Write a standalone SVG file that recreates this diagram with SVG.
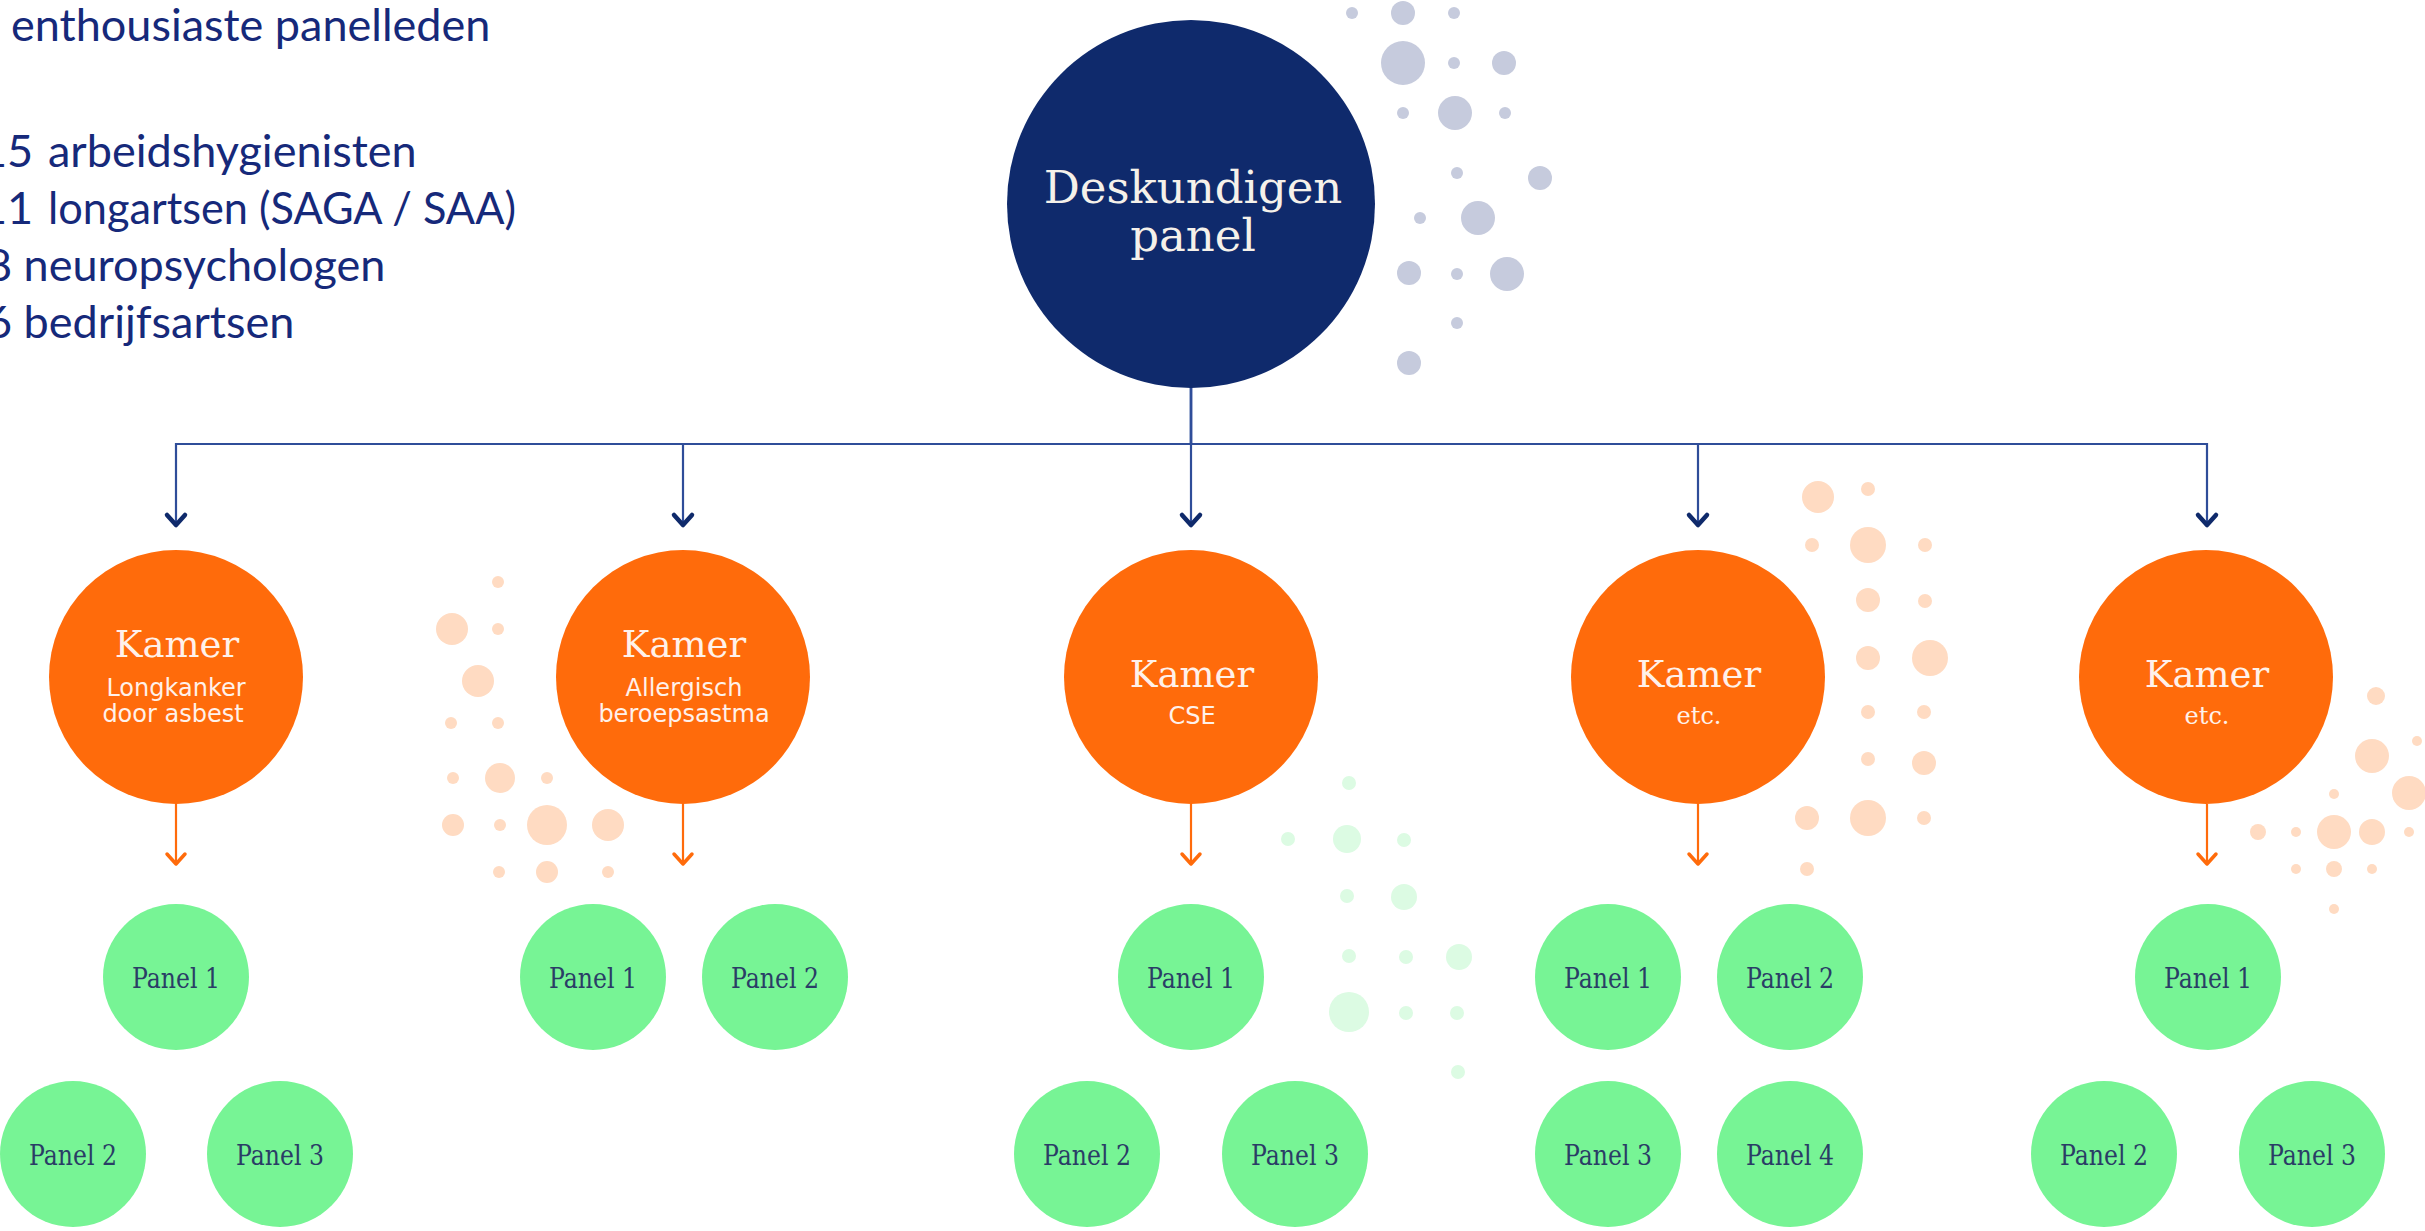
<svg xmlns="http://www.w3.org/2000/svg" width="2425" height="1231" viewBox="0 0 2425 1231">
<defs>
<style>
.bg{fill:#ffffff}
.intro{font-family:Lato,"Liberation Sans",sans-serif;font-size:45px;fill:#16297a}
.root{fill:#0f2a6c}
.rootTxt{font-family:"DejaVu Serif","Liberation Serif",serif;font-size:45px;fill:#f5f1ea;text-anchor:middle}
.kamer{fill:#ff6b0b}
.kTitle{font-family:"DejaVu Serif","Liberation Serif",serif;font-size:37px;fill:#fff1ea;text-anchor:middle}
.kSub{font-family:"DejaVu Sans","Liberation Sans",sans-serif;font-size:24px;fill:#fff1ea;text-anchor:middle}
.kSubS{font-family:"DejaVu Serif","Liberation Serif",serif;font-size:24px;fill:#fff1ea;text-anchor:middle}
.panel{fill:#77f495}
.pTxt{font-family:"DejaVu Serif","Liberation Serif",serif;font-size:27px;fill:#2a3d66;text-anchor:middle}
.dN{fill:#c6cbdd}
.dO{fill:#ffdbc2}
.dG{fill:#dcfbe3}
.lnNavy{fill:none;stroke:#2f4d99;stroke-width:2.2}
.lnOrange{fill:none;stroke:#ff6b0b;stroke-width:2.2}
</style>
<marker id="arrNavy" markerUnits="userSpaceOnUse" viewBox="-14 -14 28 28" markerWidth="28" markerHeight="28" refX="0" refY="0" orient="auto" overflow="visible">
<path d="M-10,-9 L0,0 L-10,9" fill="none" stroke="#0f2a6b" stroke-width="4.5" stroke-linecap="round" stroke-linejoin="round"/>
</marker>
<marker id="arrOrange" markerUnits="userSpaceOnUse" viewBox="-14 -14 28 28" markerWidth="28" markerHeight="28" refX="0" refY="0" orient="auto" overflow="visible">
<path d="M-10,-9 L0,0 L-10,9" fill="none" stroke="#ff6b0b" stroke-width="3.5" stroke-linecap="round" stroke-linejoin="round"/>
</marker>
</defs>
<rect class="bg" x="0" y="0" width="2425" height="1231"/>

<g id="intro-text">
<text class="intro" x="11" y="41">enthousiaste panelleden</text>
<text class="intro" y="167"><tspan x="-19">15 </tspan><tspan x="48">arbeidshygienisten</tspan></text>
<text class="intro" y="224"><tspan x="-19">11 </tspan><tspan x="48" textLength="468" lengthAdjust="spacingAndGlyphs">longartsen (SAGA / SAA)</tspan></text>
<text class="intro" x="-14" y="281">8 neuropsychologen</text>
<text class="intro" x="-14" y="338">6 bedrijfsartsen</text>
</g>

<g id="decoration-navy">
<circle class="dN" cx="1352" cy="13" r="6"/><circle class="dN" cx="1403" cy="13" r="12"/><circle class="dN" cx="1454" cy="13" r="6"/>
<circle class="dN" cx="1403" cy="63" r="22"/><circle class="dN" cx="1454" cy="63" r="6"/><circle class="dN" cx="1504" cy="63" r="12"/>
<circle class="dN" cx="1403" cy="113" r="6"/><circle class="dN" cx="1455" cy="113" r="17"/><circle class="dN" cx="1505" cy="113" r="6"/>
<circle class="dN" cx="1457" cy="173" r="6"/><circle class="dN" cx="1540" cy="178" r="12"/>
<circle class="dN" cx="1420" cy="218" r="6"/><circle class="dN" cx="1478" cy="218" r="17"/>
<circle class="dN" cx="1409" cy="273" r="12"/><circle class="dN" cx="1457" cy="274" r="6"/><circle class="dN" cx="1507" cy="274" r="17"/>
<circle class="dN" cx="1457" cy="323" r="6"/>
<circle class="dN" cx="1409" cy="363" r="12"/>
</g>

<g id="decoration-orange-1">
<circle class="dO" cx="498" cy="582" r="6"/><circle class="dO" cx="452" cy="629" r="16"/><circle class="dO" cx="498" cy="629" r="6"/>
<circle class="dO" cx="478" cy="681" r="16"/><circle class="dO" cx="451" cy="723" r="6"/><circle class="dO" cx="498" cy="723" r="6"/>
<circle class="dO" cx="453" cy="778" r="6"/><circle class="dO" cx="500" cy="778" r="15"/><circle class="dO" cx="547" cy="778" r="6"/>
<circle class="dO" cx="453" cy="825" r="11"/><circle class="dO" cx="500" cy="825" r="6"/><circle class="dO" cx="547" cy="825" r="20"/><circle class="dO" cx="608" cy="825" r="16"/>
<circle class="dO" cx="499" cy="872" r="6"/><circle class="dO" cx="547" cy="872" r="11"/><circle class="dO" cx="608" cy="872" r="6"/>
</g>

<g id="decoration-orange-2">
<circle class="dO" cx="1818" cy="497" r="16"/><circle class="dO" cx="1868" cy="489" r="7"/>
<circle class="dO" cx="1812" cy="545" r="7"/><circle class="dO" cx="1868" cy="545" r="18"/><circle class="dO" cx="1925" cy="545" r="7"/>
<circle class="dO" cx="1868" cy="600" r="12"/><circle class="dO" cx="1925" cy="601" r="7"/>
<circle class="dO" cx="1868" cy="658" r="12"/><circle class="dO" cx="1930" cy="658" r="18"/>
<circle class="dO" cx="1868" cy="712" r="7"/><circle class="dO" cx="1924" cy="712" r="7"/>
<circle class="dO" cx="1868" cy="759" r="7"/><circle class="dO" cx="1924" cy="763" r="12"/>
<circle class="dO" cx="1807" cy="818" r="12"/><circle class="dO" cx="1868" cy="818" r="18"/><circle class="dO" cx="1924" cy="818" r="7"/>
<circle class="dO" cx="1807" cy="869" r="7"/>
</g>

<g id="decoration-orange-3">
<circle class="dO" cx="2376" cy="696" r="9"/><circle class="dO" cx="2417" cy="741" r="5"/><circle class="dO" cx="2372" cy="756" r="17"/>
<circle class="dO" cx="2409" cy="793" r="17"/><circle class="dO" cx="2334" cy="794" r="5"/>
<circle class="dO" cx="2258" cy="832" r="8"/><circle class="dO" cx="2296" cy="832" r="5"/><circle class="dO" cx="2334" cy="832" r="17"/><circle class="dO" cx="2372" cy="832" r="13"/><circle class="dO" cx="2409" cy="832" r="5"/>
<circle class="dO" cx="2296" cy="869" r="5"/><circle class="dO" cx="2334" cy="869" r="8"/><circle class="dO" cx="2372" cy="869" r="5"/>
<circle class="dO" cx="2334" cy="909" r="5"/>
</g>

<g id="decoration-green">
<circle class="dG" cx="1349" cy="783" r="7"/>
<circle class="dG" cx="1288" cy="839" r="7"/><circle class="dG" cx="1347" cy="839" r="14"/><circle class="dG" cx="1404" cy="840" r="7"/>
<circle class="dG" cx="1347" cy="896" r="7"/><circle class="dG" cx="1404" cy="897" r="13"/>
<circle class="dG" cx="1349" cy="956" r="7"/><circle class="dG" cx="1406" cy="957" r="7"/><circle class="dG" cx="1459" cy="957" r="13"/>
<circle class="dG" cx="1349" cy="1012" r="20"/><circle class="dG" cx="1406" cy="1013" r="7"/><circle class="dG" cx="1457" cy="1013" r="7"/>
<circle class="dG" cx="1458" cy="1072" r="7"/>
</g>

<g id="connectors">
<path class="lnNavy" d="M1191 387 V444 H176 V525" marker-end="url(#arrNavy)"/>
<path class="lnNavy" d="M1191 387 V444 H683 V525" marker-end="url(#arrNavy)"/>
<path class="lnNavy" d="M1191 387 V525" marker-end="url(#arrNavy)"/>
<path class="lnNavy" d="M1191 387 V444 H1698 V525" marker-end="url(#arrNavy)"/>
<path class="lnNavy" d="M1191 387 V444 H2207 V525" marker-end="url(#arrNavy)"/>
<path class="lnOrange" d="M176 804 V864" marker-end="url(#arrOrange)"/>
<path class="lnOrange" d="M683 804 V864" marker-end="url(#arrOrange)"/>
<path class="lnOrange" d="M1191 804 V864" marker-end="url(#arrOrange)"/>
<path class="lnOrange" d="M1698 804 V864" marker-end="url(#arrOrange)"/>
<path class="lnOrange" d="M2207 804 V864" marker-end="url(#arrOrange)"/>
</g>

<g id="deskundigen-panel">
<circle class="root" cx="1191" cy="204" r="184"/>
<text class="rootTxt" x="1193" y="203">Deskundigen</text>
<text class="rootTxt" x="1193" y="251">panel</text>
</g>

<g id="kamer-longkanker">
<circle class="kamer" cx="176" cy="677" r="127"/>
<text class="kTitle" x="177" y="657">Kamer</text>
<text class="kSub" x="176" y="696">Longkanker</text>
<text class="kSub" x="173" y="722">door asbest</text>
</g>
<g id="kamer-allergisch">
<circle class="kamer" cx="683" cy="677" r="127"/>
<text class="kTitle" x="684" y="657">Kamer</text>
<text class="kSub" x="684" y="696">Allergisch</text>
<text class="kSub" x="684" y="722">beroepsastma</text>
</g>
<g id="kamer-cse">
<circle class="kamer" cx="1191" cy="677" r="127"/>
<text class="kTitle" x="1192" y="687">Kamer</text>
<text class="kSub" x="1192" y="724">CSE</text>
</g>
<g id="kamer-etc-1">
<circle class="kamer" cx="1698" cy="677" r="127"/>
<text class="kTitle" x="1699" y="687">Kamer</text>
<text class="kSubS" x="1699" y="724">etc.</text>
</g>
<g id="kamer-etc-2">
<circle class="kamer" cx="2206" cy="677" r="127"/>
<text class="kTitle" x="2207" y="687">Kamer</text>
<text class="kSubS" x="2207" y="724">etc.</text>
</g>

<g id="k1-panel1"><circle class="panel" cx="176" cy="977" r="73"/><text class="pTxt" x="176" y="988" textLength="88" lengthAdjust="spacingAndGlyphs">Panel 1</text></g>
<g id="k1-panel2"><circle class="panel" cx="73" cy="1154" r="73"/><text class="pTxt" x="73" y="1165" textLength="88" lengthAdjust="spacingAndGlyphs">Panel 2</text></g>
<g id="k1-panel3"><circle class="panel" cx="280" cy="1154" r="73"/><text class="pTxt" x="280" y="1165" textLength="88" lengthAdjust="spacingAndGlyphs">Panel 3</text></g>

<g id="k2-panel1"><circle class="panel" cx="593" cy="977" r="73"/><text class="pTxt" x="593" y="988" textLength="88" lengthAdjust="spacingAndGlyphs">Panel 1</text></g>
<g id="k2-panel2"><circle class="panel" cx="775" cy="977" r="73"/><text class="pTxt" x="775" y="988" textLength="88" lengthAdjust="spacingAndGlyphs">Panel 2</text></g>

<g id="k3-panel1"><circle class="panel" cx="1191" cy="977" r="73"/><text class="pTxt" x="1191" y="988" textLength="88" lengthAdjust="spacingAndGlyphs">Panel 1</text></g>
<g id="k3-panel2"><circle class="panel" cx="1087" cy="1154" r="73"/><text class="pTxt" x="1087" y="1165" textLength="88" lengthAdjust="spacingAndGlyphs">Panel 2</text></g>
<g id="k3-panel3"><circle class="panel" cx="1295" cy="1154" r="73"/><text class="pTxt" x="1295" y="1165" textLength="88" lengthAdjust="spacingAndGlyphs">Panel 3</text></g>

<g id="k4-panel1"><circle class="panel" cx="1608" cy="977" r="73"/><text class="pTxt" x="1608" y="988" textLength="88" lengthAdjust="spacingAndGlyphs">Panel 1</text></g>
<g id="k4-panel2"><circle class="panel" cx="1790" cy="977" r="73"/><text class="pTxt" x="1790" y="988" textLength="88" lengthAdjust="spacingAndGlyphs">Panel 2</text></g>
<g id="k4-panel3"><circle class="panel" cx="1608" cy="1154" r="73"/><text class="pTxt" x="1608" y="1165" textLength="88" lengthAdjust="spacingAndGlyphs">Panel 3</text></g>
<g id="k4-panel4"><circle class="panel" cx="1790" cy="1154" r="73"/><text class="pTxt" x="1790" y="1165" textLength="88" lengthAdjust="spacingAndGlyphs">Panel 4</text></g>

<g id="k5-panel1"><circle class="panel" cx="2208" cy="977" r="73"/><text class="pTxt" x="2208" y="988" textLength="88" lengthAdjust="spacingAndGlyphs">Panel 1</text></g>
<g id="k5-panel2"><circle class="panel" cx="2104" cy="1154" r="73"/><text class="pTxt" x="2104" y="1165" textLength="88" lengthAdjust="spacingAndGlyphs">Panel 2</text></g>
<g id="k5-panel3"><circle class="panel" cx="2312" cy="1154" r="73"/><text class="pTxt" x="2312" y="1165" textLength="88" lengthAdjust="spacingAndGlyphs">Panel 3</text></g>
</svg>
